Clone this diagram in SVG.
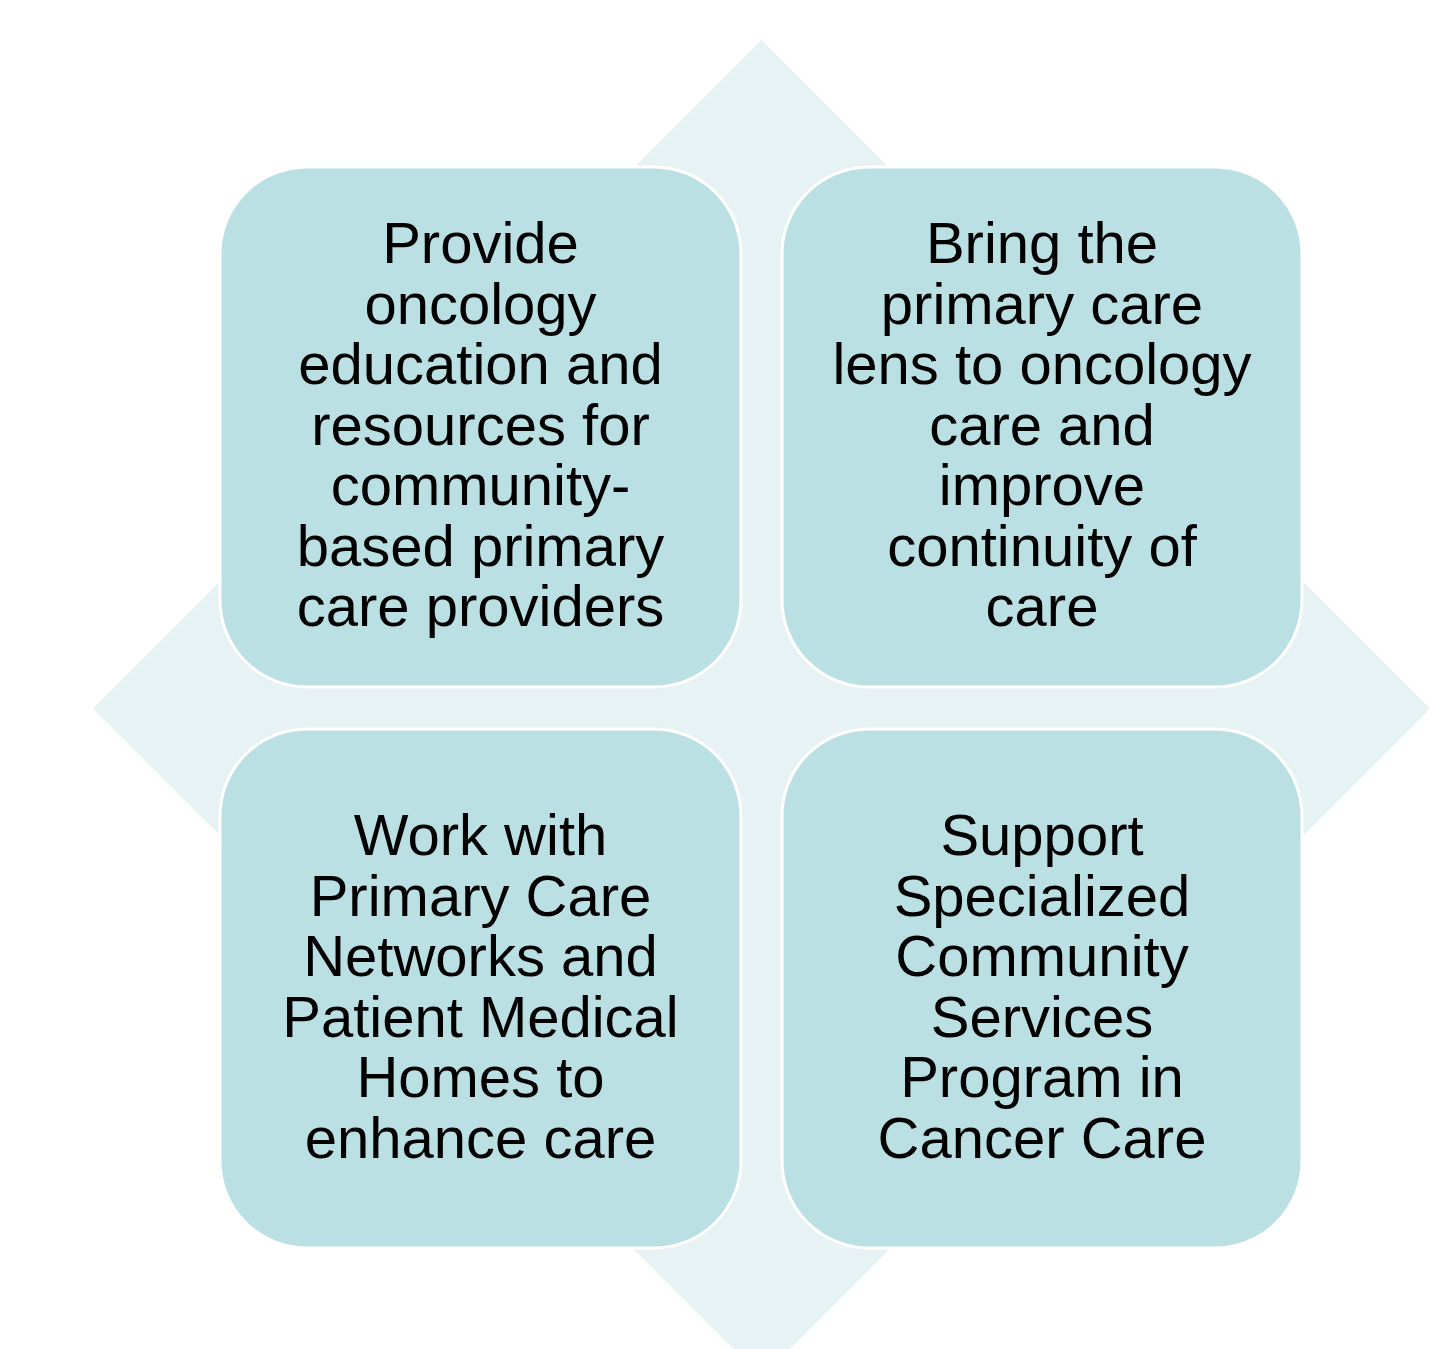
<svg xmlns="http://www.w3.org/2000/svg" width="1436" height="1349" viewBox="0 0 1436 1349">
<style>
.bg{fill:#E7F2F4;}
.box{fill:#BBE0E3;stroke:#FFFFFF;stroke-width:3;}
.t{font-family:"Liberation Sans",Arial,sans-serif;font-size:58px;fill:#000000;text-anchor:middle;}
</style>
<rect width="1436" height="1349" fill="#FFFFFF"/>
<g id="diamond">
<polygon class="bg" points="761.5,40 1430,708.5 761.5,1377 93,708.5"/>
</g>
<g id="connectors"></g>
<g id="node-tl">
<rect class="box" x="220" y="167" width="521" height="520" rx="87" ry="87"/>
<text class="t" x="480.5" y="263">Provide</text>
<text class="t" x="480.5" y="323.5">oncology</text>
<text class="t" x="480.5" y="384">education and</text>
<text class="t" x="480.5" y="444.5">resources for</text>
<text class="t" x="480.5" y="505">community-</text>
<text class="t" x="480.5" y="565.5">based primary</text>
<text class="t" x="480.5" y="626">care providers</text>
</g>
<g id="node-tr">
<rect class="box" x="782" y="167" width="520" height="520" rx="87" ry="87"/>
<text class="t" x="1042" y="263">Bring the</text>
<text class="t" x="1042" y="323.5">primary care</text>
<text class="t" x="1042" y="384">lens to oncology</text>
<text class="t" x="1042" y="444.5">care and</text>
<text class="t" x="1042" y="505">improve</text>
<text class="t" x="1042" y="565.5">continuity of</text>
<text class="t" x="1042" y="626">care</text>
</g>
<g id="node-bl">
<rect class="box" x="220" y="729" width="521" height="519" rx="87" ry="87"/>
<text class="t" x="480.5" y="855">Work with</text>
<text class="t" x="480.5" y="915.5">Primary Care</text>
<text class="t" x="480.5" y="976">Networks and</text>
<text class="t" x="480.5" y="1036.5">Patient Medical</text>
<text class="t" x="480.5" y="1097">Homes to</text>
<text class="t" x="480.5" y="1157.5">enhance care</text>
</g>
<g id="node-br">
<rect class="box" x="782" y="729" width="520" height="519" rx="87" ry="87"/>
<text class="t" x="1042" y="855">Support</text>
<text class="t" x="1042" y="915.5">Specialized</text>
<text class="t" x="1042" y="976">Community</text>
<text class="t" x="1042" y="1036.5">Services</text>
<text class="t" x="1042" y="1097">Program in</text>
<text class="t" x="1042" y="1157.5">Cancer Care</text>
</g>
</svg>
